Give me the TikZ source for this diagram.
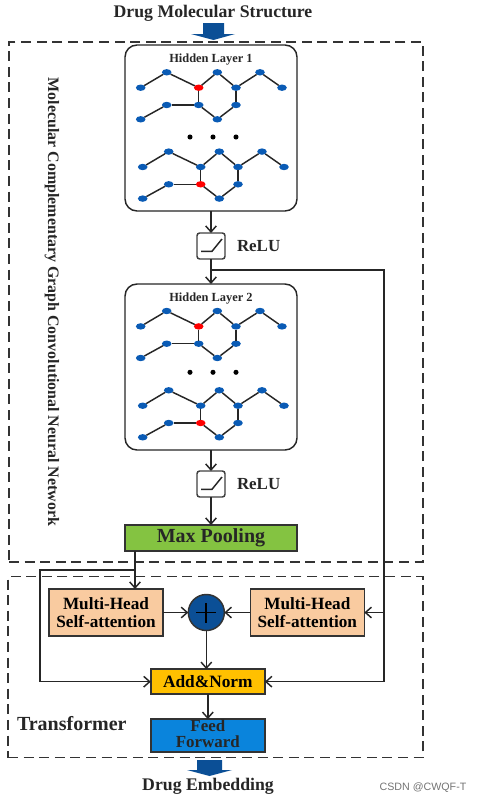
\documentclass[tikz,border=0pt]{standalone}
\usepackage{fontspec}
\setmainfont{Liberation Serif}
\newfontfamily\marksans{Liberation Sans}
\usetikzlibrary{arrows.meta,positioning,shapes.geometric}

\definecolor{deepblue}{HTML}{0B4F96}
\definecolor{atomblue}{HTML}{0A5BB5}
\definecolor{poolgreen}{HTML}{84C341}
\definecolor{attnpeach}{HTML}{F9CBA0}
\definecolor{normgold}{HTML}{FFC000}
\definecolor{feedblue}{HTML}{0A84DC}

% one molecule graph, placed from the corner of a layer box
\newcommand{\drawmol}[5]{
  \begin{scope}[shift={(#2)},shift={(#3,#4)}]
    \foreach \n/\ax/\ay in {1/15.7/42.7,2/41.7/27.3,3/73.7/42.7,4/92.3/27.3,
        5/111/42.7,6/135/27.3,7/157/42.7,8/15.7/74.3,9/41.7/60,10/73.7/60,
        11/111/60,12/92.3/74.3} {
      \ifnum\n=#5 \def\atomcol{red}\else\def\atomcol{atomblue}\fi
      \node[atom,fill=\atomcol] (#1\n) at (\ax,\ay) {};
    }
    \foreach \a/\b in {1/2,2/3,3/4,4/5,5/6,6/7,3/10,5/11,8/9,9/10,10/12,12/11}
      \draw[bond] (#1\a) -- (#1\b);
  \end{scope}
}

% ramp icon inside an activation box
\newcommand{\drawramp}[1]{
  \draw[line width=1.1pt,black!85] ([shift={(-10,5.3)}]#1.center) -- ([shift={(1,5.3)}]#1.center) -- ([shift={(11,-7)}]#1.center);
}

\begin{document}
\begin{tikzpicture}[
  x=0.75pt,
  y=-0.75pt,
  >={Straight Barb[length=4.5pt,width=8pt]},
  every node/.style={outer sep=0pt},
  layerbox/.style={
    draw=black!85,
    rounded corners=9pt,
    line width=1.1pt,
    fill=white,
    minimum width=129pt,
    minimum height=124.5pt,
    inner sep=0pt
  },
  atom/.style={
    ellipse,
    minimum width=7.2pt,
    minimum height=4.8pt,
    inner sep=0pt
  },
  bond/.style={
    line width=1.1pt,
    draw=black!85
  },
  seqdot/.style={
    circle,
    fill=black,
    minimum size=3.8pt,
    inner sep=0pt
  },
  rampbox/.style={
    draw=black!75,
    rounded corners=2pt,
    line width=1.1pt,
    fill=white,
    minimum width=21pt,
    minimum height=19.5pt,
    inner sep=0pt
  },
  block/.style={
    draw=black!80,
    line width=1.1pt,
    align=center,
    inner sep=0pt,
    font=\fontsize{12.9}{14}\selectfont\bfseries
  },
  region/.style={
    draw=black!80,
    dash pattern=on 7.5pt off 4.2pt,
    line width=1.2pt
  },
  flow/.style={
    ->,
    line width=1.1pt,
    draw=black!85
  },
  trunk/.style={
    line width=1.1pt,
    draw=black!85
  },
  caption/.style={
    inner sep=0pt,
    font=\fontsize{13.3}{15}\selectfont\bfseries,
    text=black!85
  },
  fatarrow/.style={
    fill=deepblue
  }
]
\useasboundingbox (0,0) rectangle (480,803);

% Dashed regions
\node[region,minimum width=310.5pt,minimum height=390pt,inner sep=0pt] (gcnregion) at (216,302) {};
\node[region,minimum width=311.25pt,minimum height=135.75pt,inner sep=0pt] (transregion) at (215.5,667) {};

% Graph convolution column
\node[layerbox] (layerone) at (211,128) {};
\node[rampbox,below=16.5pt of layerone] (rampone) {};
\node[layerbox,below=18.75pt of rampone] (layertwo) {};
\node[rampbox,below=15.75pt of layertwo] (ramptwo) {};
\node[block,fill=poolgreen,minimum width=129pt,minimum height=19.5pt,below=21pt of ramptwo] (maxpool) {};
\node[inner sep=0pt,font=\fontsize{15}{17}\selectfont\bfseries,text=black!85] (pooltext) at ([yshift=0.4pt]maxpool.center) {Max Pooling};

\node[inner sep=0pt,font=\fontsize{9.3}{11}\selectfont\bfseries,text=black!85,below=7pt of layerone.north] (titleone) {Hidden Layer 1};
\node[inner sep=0pt,font=\fontsize{9.3}{11}\selectfont\bfseries,text=black!85,below=7pt of layertwo.north] (titletwo) {Hidden Layer 2};

\drawmol{ma}{layerone.north west}{0}{0}{3}
\drawmol{mb}{layerone.north west}{2}{79.3}{10}
\drawmol{mc}{layertwo.north west}{0}{-0.3}{3}
\drawmol{md}{layertwo.north west}{2}{79}{10}

\foreach \n/\dx in {1/65,2/88,3/111} {
  \node[seqdot] (dotone\n) at ([shift={(\dx,92)}]layerone.north west) {};
  \node[seqdot] (dottwo\n) at ([shift={(\dx,88.3)}]layertwo.north west) {};
}

\drawramp{rampone}
\drawramp{ramptwo}
\node[inner sep=0pt,font=\fontsize{12.7}{14}\selectfont\bfseries,text=black!85,right=9pt of rampone] (reluone) {ReLU};
\node[inner sep=0pt,font=\fontsize{12.7}{14}\selectfont\bfseries,text=black!85,right=9pt of ramptwo] (relutwo) {ReLU};

\node[inner sep=0pt,rotate=-90,font=\fontsize{11.95}{13}\selectfont\bfseries,text=black!85] (gcntitle) at (52,302) {Molecular Complementary Graph Convolutional Neural Network};

\draw[flow] (layerone) -- (rampone);
\draw[flow] (rampone) -- (layertwo);
\draw[flow] (layertwo) -- (ramptwo);
\draw[flow] (ramptwo) -- (maxpool);

% Transformer part
\node[block,fill=attnpeach,minimum width=85.5pt,minimum height=35.25pt] (msaleft) at (106,612.5) {Multi-Head\\Self-attention};
\node[circle,draw=black!80,fill=deepblue,line width=1.1pt,minimum size=27pt,inner sep=0pt,right=19pt of msaleft] (sumnode) {};
\node[block,fill=attnpeach,minimum width=85.5pt,minimum height=35.25pt,right=19.5pt of sumnode] (msaright) {Multi-Head\\Self-attention};
\node[block,fill=normgold,minimum width=85.5pt,minimum height=18.75pt,below=29pt of sumnode,xshift=1.1pt,font=\fontsize{13}{15}\selectfont\bfseries] (addnorm) {Add\&Norm};
\node[block,fill=feedblue,minimum width=85.5pt,minimum height=24.75pt,below=18.75pt of addnorm] (feedfwd) {};
\node[inner sep=0pt,align=center,font=\fontsize{12.7}{12}\selectfont\bfseries,text=black!85] (feedtext) at ([yshift=1.4pt]feedfwd.center) {Feed\\Forward};
\node[inner sep=0pt,anchor=west,font=\fontsize{15}{17}\selectfont\bfseries,text=black!85] (transtitle) at (17,724) {Transformer};

\draw[line width=1.3pt,black] ([yshift=-7.5pt]sumnode.center) -- ([yshift=7.5pt]sumnode.center);
\draw[line width=1.3pt,black] ([xshift=-7.5pt]sumnode.center) -- ([xshift=7.5pt]sumnode.center);

\draw[flow] (msaleft) -- (sumnode);
\draw[flow] (msaright) -- (sumnode);
\draw[flow] (sumnode) -- (sumnode |- addnorm.north);
\draw[flow] (addnorm) -- (feedfwd);

% Skip paths
\coordinate (tapone) at (211,270);
\coordinate (railright) at (384,270);
\coordinate (taptwo) at (135,570);
\coordinate (railleft) at (40,570);

\draw[trunk] (tapone) -- (railright) -- (railright |- addnorm);
\draw[flow] (railright |- addnorm) -- (addnorm.east);
\draw[flow] (railright |- msaright) -- (msaright.east);
\draw[flow] (maxpool.south -| taptwo) -- (msaleft.north -| taptwo);
\draw[trunk] (taptwo) -- (railleft) -- (railleft |- addnorm);
\draw[flow] (railleft |- addnorm) -- (addnorm.west);

% Input and output
\node[caption] (druginput) at (213,13.5) {Drug Molecular Structure};
\node[caption] (drugoutput) at (208,786) {Drug Embedding};
\fill[fatarrow] (203,23) -- (224,23) -- (224,34) -- (235,34) -- (213.5,40) -- (191,34) -- (203,34) -- cycle;
\fill[fatarrow] (197,760) -- (222,760) -- (222,770) -- (232,770) -- (209.5,776) -- (187,770) -- (197,770) -- cycle;

\node[inner sep=0pt,text=black!55,font=\marksans\fontsize{8}{10}\selectfont] (watermark) at (423,788) {CSDN @CWQF-T};

\end{tikzpicture}
\end{document}
